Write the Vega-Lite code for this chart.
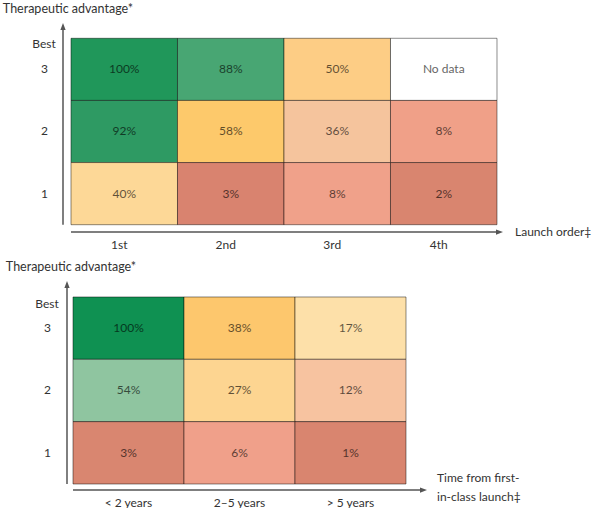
{
  "$schema": "https://vega.github.io/schema/vega-lite/v6.json",
  "padding": {"left": 2, "top": 3, "right": 0, "bottom": 0},
  "spacing": 11,
  "resolve": {"scale": {"color": "independent"}},
  "datasets": {
    "launch": [
      {"order": "1st", "adv": 3, "label": "100%", "cell": "L1-3"},
      {"order": "2nd", "adv": 3, "label": "88%", "cell": "L2-3"},
      {"order": "3rd", "adv": 3, "label": "50%", "cell": "L3-3"},
      {"order": "4th", "adv": 3, "label": "No data", "cell": "L4-3"},
      {"order": "1st", "adv": 2, "label": "92%", "cell": "L1-2"},
      {"order": "2nd", "adv": 2, "label": "58%", "cell": "L2-2"},
      {"order": "3rd", "adv": 2, "label": "36%", "cell": "L3-2"},
      {"order": "4th", "adv": 2, "label": "8%", "cell": "L4-2"},
      {"order": "1st", "adv": 1, "label": "40%", "cell": "L1-1"},
      {"order": "2nd", "adv": 1, "label": "3%", "cell": "L2-1"},
      {"order": "3rd", "adv": 1, "label": "8%", "cell": "L3-1"},
      {"order": "4th", "adv": 1, "label": "2%", "cell": "L4-1"}
    ],
    "timing": [
      {"time": "< 2 years", "adv": 3, "label": "100%", "cell": "T1-3"},
      {"time": "2–5 years", "adv": 3, "label": "38%", "cell": "T2-3"},
      {"time": "> 5 years", "adv": 3, "label": "17%", "cell": "T3-3"},
      {"time": "< 2 years", "adv": 2, "label": "54%", "cell": "T1-2"},
      {"time": "2–5 years", "adv": 2, "label": "27%", "cell": "T2-2"},
      {"time": "> 5 years", "adv": 2, "label": "12%", "cell": "T3-2"},
      {"time": "< 2 years", "adv": 1, "label": "3%", "cell": "T1-1"},
      {"time": "2–5 years", "adv": 1, "label": "6%", "cell": "T2-1"},
      {"time": "> 5 years", "adv": 1, "label": "1%", "cell": "T3-1"}
    ],
    "one": [{}]
  },
  "vconcat": [
    {
      "width": 440,
      "height": 209,
      "layer": [
        {
          "data": {"name": "launch"},
          "encoding": {
            "x": {"field": "order", "type": "nominal",
              "scale": {"domain": ["1st", "2nd", "3rd", "4th"], "paddingInner": 0, "paddingOuter": 0.0657, "align": 0.571},
              "axis": {"title": null, "domain": false, "ticks": false, "tickSize": 0, "labelPadding": 7, "labelOffset": -5, "labelAngle": 0, "labelFont": "Lato", "labelFontSize": 12, "labelColor": "#333"}},
            "y": {"field": "adv", "type": "ordinal",
              "scale": {"domain": [3, 2, 1], "paddingInner": 0, "paddingOuter": 0.1817, "align": 0.677},
              "axis": {"title": null, "domain": false, "ticks": false, "tickSize": 0, "labelPadding": 19, "labelAlign": "center", "labelBaseline": "middle", "labelFont": "Lato", "labelFontSize": 12, "labelColor": "#333"}}
          },
          "layer": [
            {"mark": {"type": "rect", "stroke": "#000", "strokeOpacity": 0.45, "strokeWidth": 1},
              "encoding": {"color": {"field": "cell", "type": "nominal", "legend": null,
                "scale": {"domain": ["L1-3", "L2-3", "L3-3", "L4-3", "L1-2", "L2-2", "L3-2", "L4-2", "L1-1", "L2-1", "L3-1", "L4-1"],
                  "range": ["#20975a", "#48a673", "#fdcd85", "#ffffff", "#2e9a63", "#fdc96b", "#f5c49d", "#f0a088", "#fdd897", "#d9836f", "#f0a18a", "#d9856f"]}}}},
            {"mark": {"type": "text", "font": "Lato", "fontSize": 12, "color": "#000", "opacity": 0.62},
              "encoding": {"text": {"field": "label"}}}
          ]
        },
        {
          "data": {"name": "one"},
          "layer": [
            {"mark": {"type": "rule", "color": "#555", "strokeWidth": 1.5},
              "encoding": {
                "x": {"datum": -0.075, "type": "quantitative", "scale": {"domain": [-0.075, 4.056], "nice": false, "zero": false}, "axis": null},
                "y": {"datum": 0, "type": "quantitative", "scale": {"domain": [-0.117, 3.246], "nice": false, "zero": false}, "axis": null},
                "y2": {"datum": 3.2}}},
            {"mark": {"type": "point", "shape": "M0,0L-0.75,2L0.75,2Z", "filled": true, "color": "#555", "opacity": 1, "size": 49},
              "encoding": {
                "x": {"datum": -0.075, "type": "quantitative", "axis": null},
                "y": {"datum": 3.246, "type": "quantitative", "axis": null}}},
            {"mark": {"type": "rule", "color": "#555", "strokeWidth": 1.5},
              "encoding": {
                "x": {"datum": 0, "type": "quantitative", "axis": null},
                "x2": {"datum": 4.02},
                "y": {"datum": -0.117, "type": "quantitative", "axis": null}}},
            {"mark": {"type": "point", "shape": "M0,0L-2,-0.75L-2,0.75Z", "filled": true, "color": "#555", "opacity": 1, "size": 49},
              "encoding": {
                "x": {"datum": 4.056, "type": "quantitative", "axis": null},
                "y": {"datum": -0.117, "type": "quantitative", "axis": null}}},
            {"mark": {"type": "text", "text": "Therapeutic advantage*", "font": "Lato", "fontSize": 12.5, "color": "#333", "align": "center", "baseline": "middle", "dx": 5, "dy": -14},
              "encoding": {
                "x": {"datum": -0.075, "type": "quantitative", "axis": null},
                "y": {"datum": 3.246, "type": "quantitative", "axis": null}}},
            {"mark": {"type": "text", "text": "Best", "font": "Lato", "fontSize": 12, "color": "#333", "align": "center", "baseline": "middle", "dx": -19, "dy": -25},
              "encoding": {
                "x": {"datum": -0.075, "type": "quantitative", "axis": null},
                "y": {"datum": 2.5, "type": "quantitative", "axis": null}}},
            {"mark": {"type": "text", "text": "Launch order‡", "font": "Lato", "fontSize": 12, "color": "#333", "align": "left", "baseline": "middle", "dx": 12},
              "encoding": {
                "x": {"datum": 4.056, "type": "quantitative", "axis": null},
                "y": {"datum": -0.117, "type": "quantitative", "axis": null}}}
          ]
        }
      ],
      "resolve": {"scale": {"x": "independent", "y": "independent"}}
    },
    {
      "width": 364,
      "height": 209,
      "layer": [
        {
          "data": {"name": "timing"},
          "encoding": {
            "x": {"field": "time", "type": "nominal",
              "scale": {"domain": ["< 2 years", "2–5 years", "> 5 years"], "paddingInner": 0, "paddingOuter": 0.1396, "align": 0.3226},
              "axis": {"title": null, "domain": false, "ticks": false, "tickSize": 0, "labelPadding": 7, "labelAngle": 0, "labelFont": "Lato", "labelFontSize": 12, "labelColor": "#333"}},
            "y": {"field": "adv", "type": "ordinal",
              "scale": {"domain": [3, 2, 1], "paddingInner": 0, "paddingOuter": 0.1763, "align": 0.727},
              "axis": {"title": null, "domain": false, "ticks": false, "tickSize": 0, "labelPadding": 16, "labelAlign": "center", "labelBaseline": "middle", "labelFont": "Lato", "labelFontSize": 12, "labelColor": "#333"}}
          },
          "layer": [
            {"mark": {"type": "rect", "stroke": "#000", "strokeOpacity": 0.45, "strokeWidth": 1},
              "encoding": {"color": {"field": "cell", "type": "nominal", "legend": null,
                "scale": {"domain": ["T1-3", "T2-3", "T3-3", "T1-2", "T2-2", "T3-2", "T1-1", "T2-1", "T3-1"],
                  "range": ["#0f9152", "#fdc76d", "#fde0a9", "#8fc5a0", "#fdd591", "#f7c3a0", "#d98670", "#f0a08a", "#d9856f"]}}}},
            {"mark": {"type": "text", "font": "Lato", "fontSize": 12, "color": "#000", "opacity": 0.62},
              "encoding": {"text": {"field": "label"}}}
          ]
        },
        {
          "data": {"name": "one"},
          "layer": [
            {"mark": {"type": "rule", "color": "#555", "strokeWidth": 1.5},
              "encoding": {
                "x": {"datum": -0.054, "type": "quantitative", "scale": {"domain": [-0.09, 3.189], "nice": false, "zero": false}, "axis": null},
                "y": {"datum": 0, "type": "quantitative", "scale": {"domain": [-0.096, 3.256], "nice": false, "zero": false}, "axis": null},
                "y2": {"datum": 3.21}}},
            {"mark": {"type": "point", "shape": "M0,0L-0.75,2L0.75,2Z", "filled": true, "color": "#555", "opacity": 1, "size": 49},
              "encoding": {
                "x": {"datum": -0.054, "type": "quantitative", "axis": null},
                "y": {"datum": 3.256, "type": "quantitative", "axis": null}}},
            {"mark": {"type": "rule", "color": "#555", "strokeWidth": 1.5},
              "encoding": {
                "x": {"datum": 0, "type": "quantitative", "axis": null},
                "x2": {"datum": 3.16},
                "y": {"datum": -0.096, "type": "quantitative", "axis": null}}},
            {"mark": {"type": "point", "shape": "M0,0L-2,-0.75L-2,0.75Z", "filled": true, "color": "#555", "opacity": 1, "size": 49},
              "encoding": {
                "x": {"datum": 3.189, "type": "quantitative", "axis": null},
                "y": {"datum": -0.096, "type": "quantitative", "axis": null}}},
            {"mark": {"type": "text", "text": "Therapeutic advantage*", "font": "Lato", "fontSize": 12.5, "color": "#333", "align": "center", "baseline": "middle", "dx": 4, "dy": -14},
              "encoding": {
                "x": {"datum": -0.054, "type": "quantitative", "axis": null},
                "y": {"datum": 3.256, "type": "quantitative", "axis": null}}},
            {"mark": {"type": "text", "text": "Best", "font": "Lato", "fontSize": 12, "color": "#333", "align": "center", "baseline": "middle", "dx": -20, "dy": -24},
              "encoding": {
                "x": {"datum": -0.054, "type": "quantitative", "axis": null},
                "y": {"datum": 2.5, "type": "quantitative", "axis": null}}},
            {"mark": {"type": "text", "text": ["Time from first-", "in-class launch‡"], "font": "Lato", "fontSize": 12, "lineHeight": 19, "color": "#333", "align": "left", "baseline": "middle", "dx": 10, "dy": -12},
              "encoding": {
                "x": {"datum": 3.189, "type": "quantitative", "axis": null},
                "y": {"datum": -0.096, "type": "quantitative", "axis": null}}}
          ]
        }
      ],
      "resolve": {"scale": {"x": "independent", "y": "independent"}}
    }
  ],
  "config": {"view": {"stroke": null}, "font": "Lato"}
}
